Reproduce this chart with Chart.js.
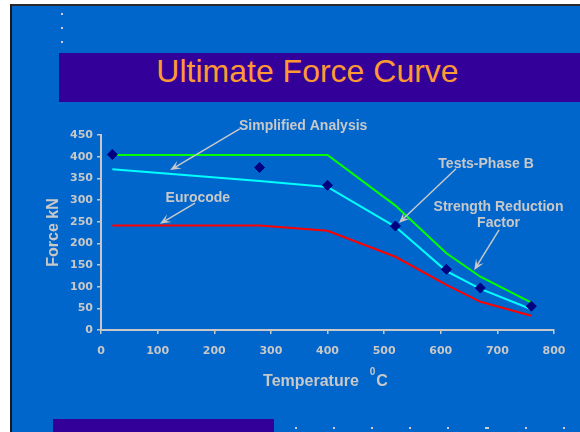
<!DOCTYPE html>
<html>
<head>
<meta charset="utf-8">
<script src="https://cdn.jsdelivr.net/npm/chart.js@4.4.0/dist/chart.umd.min.js"></script>
<style>
  html, body { margin: 0; padding: 0; background: #fff; width: 580px; height: 432px; overflow: hidden; }
  .slide { position: absolute; left: 10px; top: 4px; width: 570px; height: 428px; box-sizing: border-box;
           background: #0066cc; border-left: 2px solid #1a1a1a; border-top: 2px solid #2a2a2a; }
  .bar { position: absolute; background: #330099; }
  .title { position: absolute; left: 59px; top: 53px; width: 497px; height: 49px; line-height: 49px;
           text-align: center; color: #ff9933; font: 32px "Liberation Sans", Arial, sans-serif; }
  .dot { position: absolute; width: 2px; height: 2px; background: #d0d0d0; }
  #wrap { position: absolute; left: 0; top: 0; width: 580px; height: 432px; }
</style>
</head>
<body>
<div class="slide"></div>
<div class="bar" style="left:59px;top:53px;width:521px;height:49px"></div>
<div class="bar" style="left:53px;top:419px;width:221px;height:13px"></div>
<div class="title">Ultimate Force Curve</div>
<div class="dot" style="left:61px;top:13px"></div>
<div class="dot" style="left:61px;top:27px"></div>
<div class="dot" style="left:61px;top:41px"></div>
<div class="dot" style="left:295px;top:427px"></div>
<div class="dot" style="left:333px;top:427px"></div>
<div class="dot" style="left:371px;top:427px"></div>
<div class="dot" style="left:409px;top:427px"></div>
<div class="dot" style="left:447px;top:427px"></div>
<div class="dot" style="left:485px;top:427px;width:4px"></div>
<div class="dot" style="left:525px;top:427px"></div>
<div class="dot" style="left:563px;top:427px"></div>
<div id="wrap"><canvas id="chart"></canvas></div>
<script>
// temperature (deg C) at which each curve / test was evaluated
const temps = [20, 280, 400, 520, 610, 670, 760];

// ultimate force, kN
const strengthReduction = [404, 404, 404, 287, 177, 123, 63];
const simplified = [371, 344, 330, 238, 136, 95, 48];
const eurocode = [241, 241, 229, 169, 104, 65, 33];
const testsPhaseB = [405, 375, 334, 240, 140, 97, 55];

const xMax = 800, xStep = 100;
const yMax = 450, yStep = 50;

// callout labels, anchored in data units (temperature, force)
const callouts = [
  { lines: ['Simplified Analysis'], at: [357, 471], from: [245, 464], to: [122, 369] },
  { lines: ['Eurocode'], at: [171, 305], from: [166, 293], to: [104, 245] },
  { lines: ['Tests-Phase B'], at: [680, 383], from: [627, 372], to: [526, 247] },
  { lines: ['Strength Reduction', 'Factor'], at: [702, 265], from: [703, 231], to: [659, 138] }
];

const grey = '#c8c8c8';
const family = "'DejaVu Sans', sans-serif";
const arial = "'Liberation Sans', Arial, sans-serif";

const toPoints = ys => temps.map((t, i) => ({ x: t, y: ys[i] }));

const calloutPlugin = {
  id: 'callouts',
  afterDatasetsDraw(chart) {
    const { ctx, chartArea, scales: { x, y } } = chart;
    ctx.save();
    ctx.fillStyle = grey;
    ctx.strokeStyle = grey;
    ctx.font = 'bold 14px ' + arial;
    ctx.textAlign = 'center';
    ctx.textBaseline = 'middle';
    callouts.forEach(c => {
      const cx = x.getPixelForValue(c.at[0]), cy = y.getPixelForValue(c.at[1]);
      c.lines.forEach((t, i) => ctx.fillText(t, cx, cy + (i - (c.lines.length - 1) / 2) * 16));

      const x0 = x.getPixelForValue(c.from[0]), y0 = y.getPixelForValue(c.from[1]);
      const x1 = x.getPixelForValue(c.to[0]), y1 = y.getPixelForValue(c.to[1]);
      const a = Math.atan2(y1 - y0, x1 - x0);
      ctx.lineWidth = 1.5;
      ctx.beginPath();
      ctx.moveTo(x0, y0);
      ctx.lineTo(x1 - 5 * Math.cos(a), y1 - 5 * Math.sin(a));
      ctx.stroke();
      // notched arrow head
      const len = 11, half = 4.5, notch = 6;
      const bx = x1 - len * Math.cos(a), by = y1 - len * Math.sin(a);
      ctx.beginPath();
      ctx.moveTo(x1, y1);
      ctx.lineTo(bx + half * Math.sin(a), by - half * Math.cos(a));
      ctx.lineTo(x1 - notch * Math.cos(a), y1 - notch * Math.sin(a));
      ctx.lineTo(bx - half * Math.sin(a), by + half * Math.cos(a));
      ctx.closePath();
      ctx.fill();
    });

    // x axis title with superscript degree mark
    ctx.textAlign = 'left';
    ctx.textBaseline = 'alphabetic';
    const big = 'bold 16px ' + arial, small = 'bold 10px ' + arial;
    ctx.font = big;
    const w1 = ctx.measureText('Temperature').width, w3 = ctx.measureText('C').width;
    ctx.font = small;
    const w2 = ctx.measureText('0').width;
    const gap = 11;
    const total = w1 + gap + w2 + 1 + w3;
    let tx = (chartArea.left + chartArea.right) / 2 - 2 - total / 2;
    const base = x.top + 56;
    ctx.font = big;
    ctx.fillText('Temperature', tx, base);
    tx += w1 + gap;
    ctx.font = small;
    ctx.fillText('0', tx, base - 11);
    tx += w2 + 1;
    ctx.font = big;
    ctx.fillText('C', tx, base);
    ctx.restore();
  }
};

new Chart(document.getElementById('chart'), {
  type: 'scatter',
  data: {
    datasets: [
      {
        label: 'Tests-Phase B', data: toPoints(testsPhaseB), showLine: false, order: 0,
        pointStyle: 'rectRot', pointRadius: 5, backgroundColor: '#000080', borderColor: '#000080'
      },
      { label: 'Strength Reduction Factor', data: toPoints(strengthReduction), showLine: true, order: 1,
        borderColor: '#00ff00', borderWidth: 2, pointRadius: 0, tension: 0 },
      { label: 'Simplified Analysis', data: toPoints(simplified), showLine: true, order: 1,
        borderColor: '#00ffff', borderWidth: 2, pointRadius: 0, tension: 0 },
      { label: 'Eurocode', data: toPoints(eurocode), showLine: true, order: 1,
        borderColor: '#ff0000', borderWidth: 2, pointRadius: 0, tension: 0 }
    ]
  },
  options: {
    responsive: true,
    maintainAspectRatio: false,
    animation: false,
    layout: { padding: { left: 44, right: 26, top: 135, bottom: 42 } },
    plugins: { legend: { display: false }, tooltip: { enabled: false } },
    scales: {
      x: {
        type: 'linear', min: 0, max: xMax,
        afterFit: s => { s.height = 60; },
        border: { color: grey, width: 2 },
        grid: { drawOnChartArea: false, color: grey, tickLength: 4, lineWidth: 1.5 },
        ticks: { stepSize: xStep, color: grey, padding: 11, font: { family, size: 11, weight: 'bold' } }
      },
      y: {
        min: 0, max: yMax,
        afterFit: s => { s.width = 57; },
        border: { color: grey, width: 2 },
        grid: { drawOnChartArea: false, color: grey, tickLength: 4, lineWidth: 1.5 },
        ticks: { stepSize: yStep, color: grey, padding: 4, font: { family, size: 11, weight: 'bold' } },
        title: { display: true, text: 'Force kN', color: grey, padding: 0,
                 font: { family: arial, size: 16, weight: 'bold' } }
      }
    }
  },
  plugins: [calloutPlugin]
});
</script>
</body>
</html>
